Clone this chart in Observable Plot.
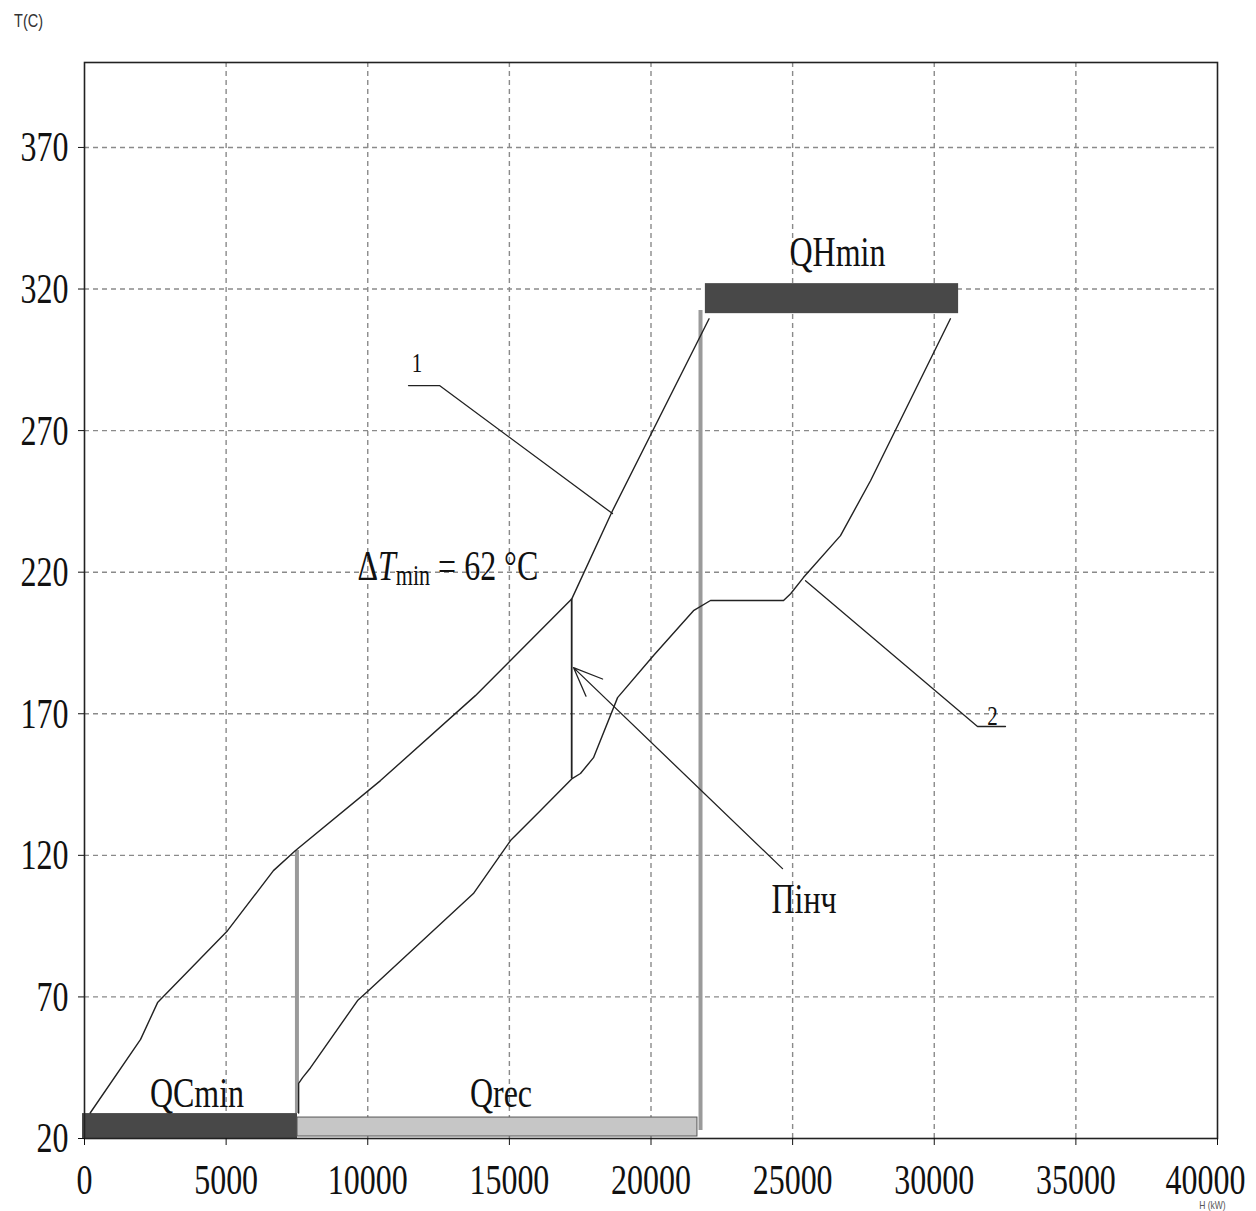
<!DOCTYPE html>
<html><head><meta charset="utf-8">
<script src="https://cdn.jsdelivr.net/npm/d3@7"></script>
<script src="https://cdn.jsdelivr.net/npm/@observablehq/plot@0.6"></script>
<style>
body{margin:0;background:#fff;}
.stretch{transform-box:fill-box;transform-origin:center;transform:scaleY(1.33);}
</style></head><body><div id="chart"></div>
<script>
// Hot composite curve (1)
const hotH = [200, 1980, 2580, 5050, 6670, 7450, 10450, 13800, 17200, 18640, 22050];
const hotT = [29, 55, 68, 93.4, 114.6, 121.7, 146.4, 176.4, 210.5, 241.7, 309.5];
// Cold composite curve (2)
const coldH = [7560, 7560, 7700, 7980, 9640, 10030, 13730, 15040, 16100, 17200, 17510, 17970, 18820, 20090, 20940, 21500, 22100, 24680, 24930, 25380, 26690, 27750, 30570];
const coldT = [29, 39.5, 41.5, 45, 68.7, 72.3, 106.5, 125.2, 135.8, 147, 148.9, 154.5, 175.7, 190.6, 200.1, 206.4, 210, 210, 212.4, 218.1, 232.9, 252.3, 309.5];
// Utility / recovery bars
const barNames = ["QCmin", "Qrec", "QHmin"];
const barH1 = [-70, 7520, 21920];
const barH2 = [7520, 21640, 30860];
const barT1 = [20, 20.7, 311.3];
const barT2 = [28.8, 27.4, 321.9];
const xTicks = [0, 5000, 10000, 15000, 20000, 25000, 30000, 35000, 40000];
const yTicks = [20, 70, 120, 170, 220, 270, 320, 370];
const pinchH = 17200, pinchHotT = 210.5, pinchColdT = 147;
const dtLabel = "ΔTmin = 62 °C";

const hot = hotH.map((h, i) => ({H: h, T: hotT[i]}));
const cold = coldH.map((h, i) => ({H: h, T: coldT[i]}));
const bars = barNames.map((n, i) => ({name: n, H1: barH1[i], H2: barH2[i], T1: barT1[i], T2: barT2[i]}));

const serif = "Liberation Serif, Times New Roman, serif";
const sans = "Liberation Sans, Arial, sans-serif";

const labels = [
  {text: "QHmin", H: 26584, T: 333.2},
  {text: "QCmin", H: 3972, T: 36.2},
  {text: "Qrec", H: 14704, T: 36.2},
  {text: "Пінч", H: 25402, T: 104.7}
];
const numLabels = [
  {text: "1", H: 11739, T: 293.8},
  {text: "2", H: 32057, T: 169.4}
];
const leader1 = [{H: 11439, T: 285.9}, {H: 12533, T: 285.9}, {H: 18640, T: 240.7}];
const leader2 = [{H: 32515, T: 165.5}, {H: 31527, T: 165.5}, {H: 25455, T: 217}];

const gridStyle = {stroke: "#8a8a8a", strokeWidth: 1.4, strokeDasharray: "5,4"};
const lastX = xTicks[xTicks.length - 1];

const svg = Plot.plot({
  width: 1256, height: 1211,
  marginLeft: 84, marginRight: 39, marginTop: 62, marginBottom: 73,
  x: {domain: [0, 40000]},
  y: {domain: [20, 400]},
  style: {background: "#fff", color: "#111"},
  marks: [
    Plot.ruleX(xTicks.slice(1, -1), {...gridStyle}),
    Plot.ruleY(yTicks.slice(1), {...gridStyle}),
    Plot.rect(bars.filter(d => d.name !== "Qrec"), {x1: "H1", x2: "H2", y1: "T1", y2: "T2", fill: "#484848"}),
    Plot.rect(bars.filter(d => d.name === "Qrec"), {x1: "H1", x2: "H2", y1: "T1", y2: "T2", fill: "#c6c6c6", stroke: "#555", strokeWidth: 1}),
    Plot.ruleX([7500], {y1: 28.8, y2: 121.7, stroke: "#9a9a9a", strokeWidth: 4}),
    Plot.ruleX([21748], {y1: 22.8, y2: 312.4, stroke: "#9a9a9a", strokeWidth: 4}),
    Plot.line(hot, {x: "H", y: "T", stroke: "#222", strokeWidth: 1.4}),
    Plot.line(cold, {x: "H", y: "T", stroke: "#222", strokeWidth: 1.4}),
    Plot.ruleX([pinchH], {y1: pinchColdT, y2: pinchHotT, stroke: "#222", strokeWidth: 1.8}),
    Plot.line(leader1, {x: "H", y: "T", stroke: "#222", strokeWidth: 1.3}),
    Plot.line(leader2, {x: "H", y: "T", stroke: "#222", strokeWidth: 1.3}),
    Plot.arrow([{x1: 24643, y1: 115.3, x2: 17264, y2: 186.3}], {x1: "x1", y1: "y1", x2: "x2", y2: "y2", stroke: "#222", strokeWidth: 1.3, headLength: 36, headAngle: 45}),
    Plot.frame({stroke: "#222", strokeWidth: 1.6}),
    Plot.axisX({ticks: xTicks, tickFormat: d => d === lastX ? "" : String(d), tickSize: 7, tickPadding: 22, fontSize: 32, fontFamily: serif, label: null}),
    Plot.axisX({ticks: [lastX], tickFormat: d => String(d), tickSize: 0, tickPadding: 29, dx: -12, fontSize: 32, fontFamily: serif, label: null}),
    Plot.axisY({ticks: yTicks, tickFormat: d => String(d), tickSize: 6, tickPadding: 10, fontSize: 32, fontFamily: serif, label: null}),
    Plot.text(labels, {x: "H", y: "T", text: "text", fontSize: 32, fontFamily: serif, fill: "#111"}),
    Plot.text(numLabels, {x: "H", y: "T", text: "text", fontSize: 21, fontFamily: serif, fill: "#111"}),
    Plot.text([dtLabel], {x: 9638, y: 222, text: d => d, textAnchor: "start", fontSize: 32, fontFamily: serif, fill: "#111"}),
    Plot.text(["T(C)"], {x: -1977, y: 414.8, text: d => d, fontSize: 14.5, fontFamily: sans, fill: "#333"}),
    Plot.text(["H (kW)"], {x: 39823, y: -3.7, text: d => d, fontSize: 8.5, fontFamily: sans, fill: "#555"})
  ]
});

const ns = "http://www.w3.org/2000/svg";
svg.querySelectorAll("text").forEach(t => {
  if (t.textContent === dtLabel) {
    t.textContent = "";
    const mk = (s, attrs = {}) => {
      const ts = document.createElementNS(ns, "tspan");
      ts.textContent = s;
      for (const k in attrs) ts.setAttribute(k, attrs[k]);
      t.appendChild(ts);
    };
    mk("Δ");
    mk("T", {"font-style": "italic"});
    mk("min", {"font-size": "22", dy: "4"});
    mk(" = 62 °C", {dy: "-4"});
  }
});
svg.querySelectorAll("text").forEach(t => {
  const g = document.createElementNS(ns, "g");
  g.setAttribute("class", "stretch");
  t.parentNode.insertBefore(g, t);
  g.appendChild(t);
});
document.getElementById("chart").appendChild(svg);
</script>
</body></html>
